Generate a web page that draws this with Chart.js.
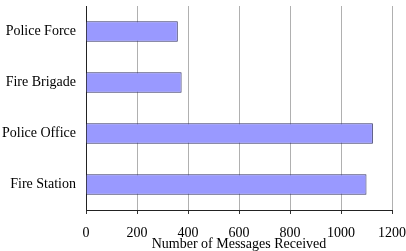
<!DOCTYPE html>
<html>
<head>
<meta charset="utf-8">
<script src="https://cdn.jsdelivr.net/npm/chart.js@4"></script>
<style>
  html, body { margin: 0; padding: 0; background: #fff; }
  #wrap { width: 406px; height: 251px; }
</style>
</head>
<body>
<div id="wrap"><canvas id="chart"></canvas></div>
<script>
// categories, top to bottom
const categories = ["Police Force", "Fire Brigade", "Police Office", "Fire Station"];
// messages received per category
const messages = [360, 375, 1125, 1100];
const xTicks = [0, 200, 400, 600, 800, 1000, 1200];

const font = { family: "'Liberation Serif', 'Times New Roman', serif", size: 14 };

new Chart(document.getElementById("chart"), {
    type: "bar",
    data: {
        labels: categories,
        datasets: [{
            data: messages,
            backgroundColor: "#9999ff",
            borderColor: "#333366",
            borderWidth: 1,
            barPercentage: 0.4,
            categoryPercentage: 1
        }]
    },
    options: {
        indexAxis: "y",
        responsive: true,
        maintainAspectRatio: false,
        animation: false,
        layout: { padding: 0 },
        plugins: { legend: { display: false }, tooltip: { enabled: false } },
        scales: {
            x: {
                min: 0,
                max: 1200,
                afterBuildTicks: (axis) => { axis.ticks = xTicks.map(v => ({ value: v })); },
                afterFit: (axis) => { axis.height = 41; axis.paddingRight = 14; axis.paddingLeft = 0; },
                grid: { color: "#b0b0b0", tickColor: "#333333", tickLength: 4 },
                border: { color: "#222222", width: 1 },
                ticks: { color: "#000", font: font, padding: 11, maxRotation: 0, callback: (v) => String(v) },
                title: { display: true, text: "Number of Messages Received", color: "#000", font: font, padding: { top: 0, bottom: -2 } }
            },
            y: {
                afterFit: (axis) => { axis.width = 86; axis.paddingTop = 6; axis.paddingBottom = 0; },
                grid: { display: false },
                border: { color: "#222222", width: 1 },
                ticks: { color: "#000", font: font, padding: 2 }
            }
        }
    }
});
</script>
</body>
</html>
